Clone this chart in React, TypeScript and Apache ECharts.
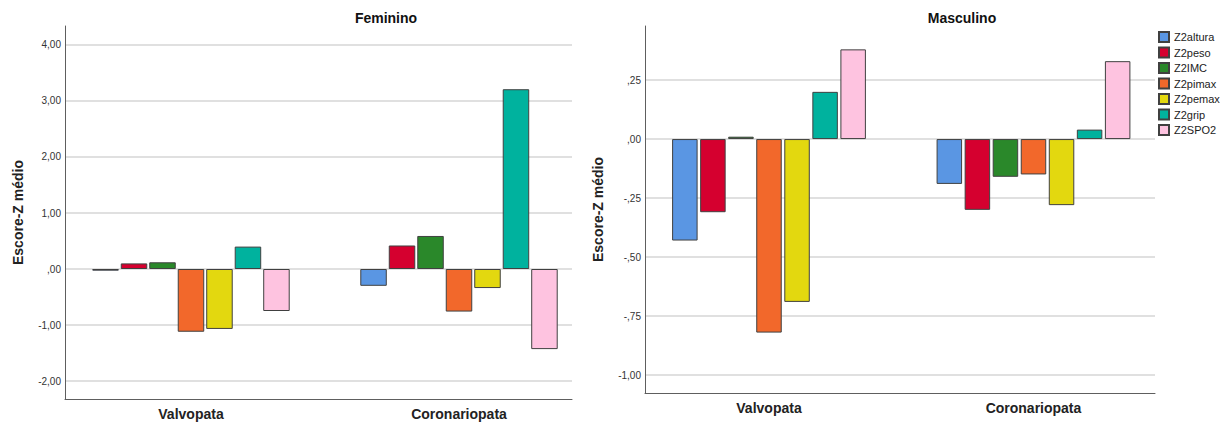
import { useEffect, useRef } from "react";
import * as echarts from "echarts";

const categories = ["Valvopata", "Coronariopata"];
const seriesNames = ["Z2altura", "Z2peso", "Z2IMC", "Z2pimax", "Z2pemax", "Z2grip", "Z2SPO2"];

const femininoValvopata = [-0.03, 0.10, 0.12, -1.12, -1.07, 0.40, -0.75];
const femininoCoronariopata = [-0.30, 0.42, 0.59, -0.76, -0.34, 3.21, -1.43];
const masculinoValvopata = [-0.43, -0.31, 0.01, -0.82, -0.69, 0.20, 0.38];
const masculinoCoronariopata = [-0.19, -0.30, -0.16, -0.15, -0.28, 0.04, 0.33];

const femininoTicks = [-2, -1, 0, 1, 2, 3, 4];
const masculinoTicks = [-1, -0.75, -0.5, -0.25, 0, 0.25];

const colors = ["#5A96E3", "#D5002F", "#2A882A", "#F2682B", "#E3D80F", "#00B29E", "#FEC3E0"];

const FONT = '"Liberation Sans", Arial, sans-serif';

const fmt = (v: number) => {
  let s = Math.abs(v).toFixed(2).replace(".", ",");
  if (s.startsWith("0")) s = s.slice(1);
  return (v < -1e-9 ? "-" : "") + s;
};

export default function App() {
  const ref = useRef<HTMLDivElement>(null);

  useEffect(() => {
    if (!ref.current) return;
    const chart = echarts.init(ref.current, undefined, { renderer: "svg" });

    const grids = [
      { left: 65, top: 26, width: 507, height: 373 },
      { left: 645, top: 26, width: 510, height: 367 },
    ];

    const xRanges = [
      { min: -0.4701, max: 1.4216 },
      { min: -0.4688, max: 1.4594 },
    ];
    const yRanges = [
      { min: -2.321, max: 4.339, ticks: femininoTicks },
      { min: -1.076, max: 0.479, ticks: masculinoTicks },
    ];

    const xAxis = xRanges.map((r, i) => ({
      type: "value",
      gridIndex: i,
      min: r.min,
      max: r.max,
      axisLine: { show: true, onZero: false, lineStyle: { color: "#5e5e5e", width: 1 } },
      axisTick: { show: false },
      splitLine: { show: false },
      axisLabel: {
        customValues: [0, 1],
        formatter: (v: number) => categories[Math.round(v)] ?? "",
        fontFamily: FONT,
        fontWeight: "bold",
        fontSize: 14,
        color: "#222",
        margin: 8,
      },
    }));

    const yAxis = yRanges.map((r, i) => ({
      type: "value",
      gridIndex: i,
      min: r.min,
      max: r.max,
      name: "Escore-Z médio",
      nameLocation: "middle",
      nameGap: 40,
      nameTextStyle: { fontFamily: FONT, fontWeight: "bold", fontSize: 14, color: "#222" },
      axisLine: { show: true, onZero: false, lineStyle: { color: "#5e5e5e", width: 1 } },
      axisTick: { show: false, customValues: r.ticks },
      axisLabel: {
        customValues: r.ticks,
        formatter: (v: number) => fmt(v),
        fontFamily: FONT,
        fontSize: 10,
        color: "#333",
        margin: 4,
      },
      splitLine: { show: true, lineStyle: { color: "#d6d6d6", width: 1.5 } },
    }));

    const groups = [
      [femininoValvopata, femininoCoronariopata],
      [masculinoValvopata, masculinoCoronariopata],
    ];
    const barWidths = [26.5, 25.5];
    const barGaps = ["7.5%", "10%"];

    const series: any[] = [];
    groups.forEach((g, gi) => {
      seriesNames.forEach((name, si) => {
        series.push({
          type: "bar",
          name,
          xAxisIndex: gi,
          yAxisIndex: gi,
          barWidth: barWidths[gi],
          barGap: barGaps[gi],
          data: g.map((vals, ci) => [ci, vals[si]]),
          itemStyle: { color: colors[si], borderColor: "#404040", borderWidth: 1 },
          emphasis: { disabled: true },
        });
      });
    });

    chart.setOption({
      animation: false,
      backgroundColor: "#fff",
      grid: grids,
      xAxis,
      yAxis,
      series,
      legend: {
        orient: "vertical",
        left: 1158,
        top: 31,
        padding: 0,
        itemWidth: 10,
        itemHeight: 10,
        itemGap: 3.5,
        icon: "rect",
        data: seriesNames,
        textStyle: { fontFamily: FONT, fontSize: 11, color: "#222" },
      },
      graphic: [
        {
          type: "text",
          x: 386,
          y: 18,
          style: {
            text: "Feminino",
            align: "center",
            verticalAlign: "middle",
            textAlign: "center",
            textVerticalAlign: "middle",
            fontFamily: FONT,
            fontWeight: "bold",
            fontSize: 14,
            fill: "#111",
          },
        },
        {
          type: "text",
          x: 962,
          y: 18,
          style: {
            text: "Masculino",
            align: "center",
            verticalAlign: "middle",
            textAlign: "center",
            textVerticalAlign: "middle",
            fontFamily: FONT,
            fontWeight: "bold",
            fontSize: 14,
            fill: "#111",
          },
        },
      ],
    });

    return () => chart.dispose();
  }, []);

  return (
    <div
      ref={ref}
      style={{ position: "fixed", left: 0, top: 0, width: 1230, height: 425, background: "#fff" }}
    />
  );
}
